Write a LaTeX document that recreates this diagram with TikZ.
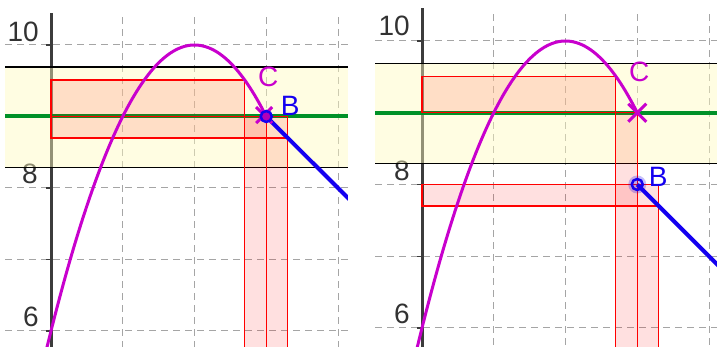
\documentclass[tikz,border=0pt]{standalone}
\usepackage{fontspec}
\setmainfont{Liberation Sans}
\definecolor{gridgray}{RGB}{165,165,165}
\definecolor{axisgray}{RGB}{60,60,60}
\definecolor{labgray}{RGB}{50,50,50}
\definecolor{bandyellow}{RGB}{255,250,190}
\definecolor{fgreen}{RGB}{0,145,40}
\definecolor{fmag}{RGB}{200,0,205}
\definecolor{gblue}{RGB}{20,0,240}
\tikzset{
  gridline/.style={draw=gridgray, line width=1pt, dash pattern=on 7pt off 5pt},
  axisline/.style={draw=axisgray, line width=3pt},
  tickline/.style={draw=axisgray, line width=1.2pt},
  ticklabel/.style={text=labgray, font=\fontsize{28}{28}\selectfont, anchor=base east, inner sep=0pt},
  bandfill/.style={fill=bandyellow, fill opacity=0.45},
  bandline/.style={draw=black, line width=1.4pt},
  greenline/.style={draw=fgreen, line width=4pt},
  stripbox/.style={fill=red, fill opacity=0.12, draw=red, draw opacity=1, line width=1.3pt},
  fcurve/.style={draw=fmag, line width=3pt},
  gcurve/.style={draw=gblue, line width=4pt},
  cmark/.style={draw=fmag, line width=3pt},
  ptlabel/.style={font=\fontsize{28}{28}\selectfont, inner sep=0pt},
}
\begin{document}
\begin{tikzpicture}[x=1pt,y=1pt]
\useasboundingbox (0,0) rectangle (717,347);
% ---------------- left panel ----------------
\begin{scope}[shift={(51pt,-413pt)}, x=71.75pt, y=71.5pt]
  \begin{scope}
  \clip (-0.641,5.77) rectangle (4.139,10.64);
  \foreach \i in {1,2,3,4} \draw[gridline] (\i,5.6) -- (\i,10.4);
  \foreach \j in {6,7,8,9,10} \draw[gridline] (-0.641,\j) -- (4.139,\j);
  \draw[axisline] (0,5.6) -- (0,10.45);
  \foreach \j in {6,7,8,9,10} \draw[tickline] (0,\j) -- ++(-5pt,0);
  \node[ticklabel] (La10) at ([xshift=-12pt,yshift=3pt]0,10) {10};
  \node[ticklabel] (La8) at ([xshift=-13pt,yshift=4pt]0,8) {8};
  \node[ticklabel] (La6) at ([xshift=-12pt,yshift=4pt]0,6) {6};
  \fill[bandfill] (-0.641,8.29) rectangle (4.139,9.69);
  \draw[bandline] (-0.641,8.29) -- (4.139,8.29);
  \draw[bandline] (-0.641,9.69) -- (4.139,9.69);
  \draw[greenline] (-0.641,9) -- (4.139,9);
  \filldraw[stripbox] (0,9) rectangle (2.7,9.51);
  \filldraw[stripbox] (0,8.7) rectangle (3.3,9);
  \filldraw[stripbox] (2.7,5.5) rectangle (3,9);
  \filldraw[stripbox] (3,5.5) rectangle (3.3,8.7);
  \draw[fcurve, domain=-0.2:3, samples=80, smooth] plot (\x,{10-(\x-2)^2});
  \coordinate (Ca) at (2.97,9.02);
  \coordinate (Ba) at (3,9);
  \draw[gcurve] (Ba) -- (4.6,7.4);
  \end{scope}
  \draw[cmark] (Ca) +(-8pt,-8pt) -- +(8pt,8pt);
  \draw[cmark] (Ca) +(-8pt,8pt) -- +(8pt,-8pt);
  \filldraw[draw=gblue, line width=2.5pt, fill=fmag!90!black] (Ba) circle (5.5pt);
  \node[ptlabel, text=fmag] (Cla) at ([xshift=2pt,yshift=40pt]Ba) {C};
  \node[ptlabel, text=gblue] (Bla) at ([xshift=24pt,yshift=11pt]Ba) {B};
\end{scope}
% ---------------- right panel ----------------
\begin{scope}[shift={(422pt,-411.5pt)}, x=71.75pt, y=71.75pt]
  \begin{scope}
  \clip (-0.655,5.73) rectangle (4.111,10.58);
  \foreach \i in {1,2,3,4} \draw[gridline] (\i,5.6) -- (\i,10.4);
  \foreach \j in {6,7,8,9,10} \draw[gridline] (-0.655,\j) -- (4.111,\j);
  \draw[axisline] (0,5.6) -- (0,10.46);
  \foreach \j in {6,7,8,9,10} \draw[tickline] (0,\j) -- ++(-5pt,0);
  \node[ticklabel] (Lb10) at ([xshift=-12pt,yshift=5pt]0,10) {10};
  \node[ticklabel] (Lb8) at ([xshift=-12pt,yshift=4pt]0,8) {8};
  \node[ticklabel] (Lb6) at ([xshift=-12pt,yshift=4pt]0,6) {6};
  \fill[bandfill] (-0.655,8.29) rectangle (4.111,9.69);
  \draw[bandline] (-0.655,8.29) -- (4.111,8.29);
  \draw[bandline] (-0.655,9.69) -- (4.111,9.69);
  \draw[greenline] (-0.655,9) -- (4.111,9);
  \filldraw[stripbox] (0,9) rectangle (2.7,9.51);
  \filldraw[stripbox] (0,7.7) rectangle (3.3,8);
  \filldraw[stripbox] (2.7,5.5) rectangle (3,9);
  \filldraw[stripbox] (3,5.5) rectangle (3.3,7.7);
  \draw[fcurve, domain=-0.2:3, samples=80, smooth] plot (\x,{10-(\x-2)^2});
  \coordinate (Cb) at (3,9);
  \coordinate (Bb) at (3,8);
  \draw[gcurve] (Bb) -- (4.6,6.4);
  \end{scope}
  \draw[cmark] (Cb) +(-9pt,-9pt) -- +(9pt,9pt);
  \draw[cmark] (Cb) +(-9pt,9pt) -- +(9pt,-9pt);
  \fill[gblue, opacity=0.25] (Bb) circle (9pt);
  \draw[draw=gblue, line width=2.5pt] (Bb) circle (5.5pt);
  \node[ptlabel, text=fmag] (Clb) at ([xshift=2pt,yshift=41pt]Cb) {C};
  \node[ptlabel, text=gblue] (Blb) at ([xshift=21pt,yshift=8pt]Bb) {B};
\end{scope}
\end{tikzpicture}
\end{document}
